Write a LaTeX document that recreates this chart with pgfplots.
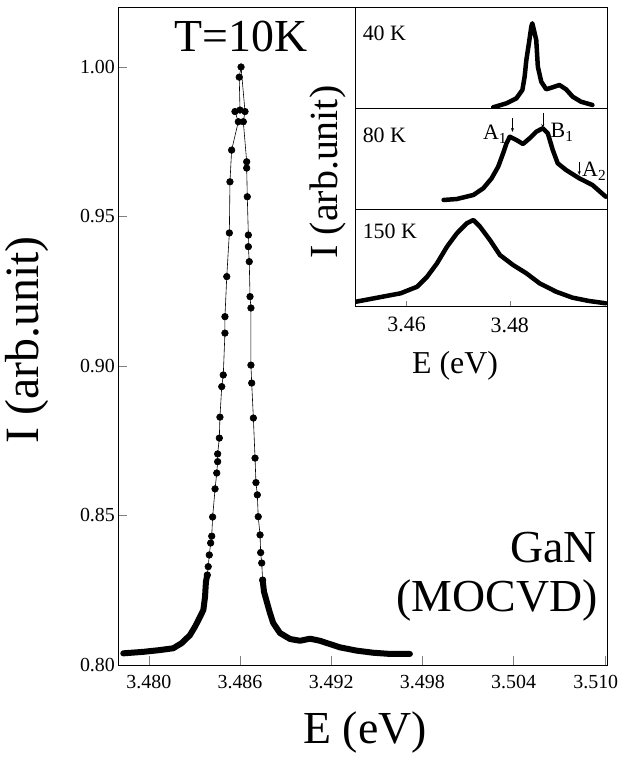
\documentclass[border=0pt]{standalone}
\usepackage{pgfplots}
\pgfplotsset{compat=1.18}
\usepackage{fontspec}
\setmainfont{Liberation Serif}
\usetikzlibrary{arrows.meta}

\pgfplotsset{
  inset/.style={scale only axis, width=252.8bp, xmin=3.450, xmax=3.499, ymin=0,
    axis background/.style={fill=white}, axis line style={line width=0.8pt},
    xtick=\empty, ytick=\empty, anchor=north west, clip=true},
  curve/.style={black, line width=4.5bp, line cap=round, line join=round},
}

\begin{document}
\begin{tikzpicture}
\path[use as bounding box] (0bp,0bp) rectangle (624bp,760bp);
\begin{axis}[
  at={(118.4bp,95bp)}, anchor=south west,
  scale only axis, width=489.4bp, height=657.8bp,
  xmin=3.478, xmax=3.5102, ymin=0.80, ymax=1.02,
  xtick={3.480,3.486,3.492,3.498,3.504},
  extra x ticks={3.510},
  extra x tick style={xticklabel style={xshift=-9bp}},
  ytick={0.80,0.85,0.90,0.95,1.00},
  scaled x ticks=false, scaled y ticks=false,
  tick pos=left, tick align=inside, major tick length=9bp,
  axis line style={line width=0.9pt},
  /pgf/number format/assume math mode=true,
  xticklabel style={/pgf/number format/fixed, /pgf/number format/fixed zerofill, /pgf/number format/precision=3, font=\fontsize{20}{24}\selectfont, yshift=-7pt},
  yticklabel style={/pgf/number format/fixed, /pgf/number format/fixed zerofill, /pgf/number format/precision=2, font=\fontsize{20}{24}\selectfont},
]
% dense parts of the spectrum (overlapping dots)
\addplot[black, line width=6bp, line cap=round, line join=round] table {
3.47832 0.8039
3.47964 0.8044
3.48074 0.8050
3.48161 0.8056
3.48216 0.8073
3.48271 0.8100
3.48304 0.8128
3.48337 0.8161
3.48359 0.8184
3.48370 0.8228
3.48376 0.8279
3.48385 0.8301
};
\addplot[black, line width=6bp, line cap=round, line join=round] table {
3.48749 0.8284
3.48758 0.8245
3.48776 0.8212
3.48797 0.8174
3.48819 0.8140
3.48863 0.8107
3.48929 0.8087
3.48995 0.8081
3.49061 0.8088
3.49126 0.8081
3.49192 0.8070
3.49258 0.8059
3.49368 0.8048
3.49477 0.8041
3.49587 0.8037
3.49718 0.8037
};
% all points
\addplot[black, line width=0.6pt, mark=*, mark size=3.3bp, mark options={solid}] table {
3.48385 0.8301
3.48391 0.8329
3.48398 0.8368
3.48407 0.8408
3.48414 0.8431
3.48420 0.8495
3.48436 0.8589
3.48447 0.8642
3.48453 0.8680
3.48453 0.8706
3.48464 0.8759
3.48468 0.8829
3.48480 0.8931
3.48490 0.8970
3.48501 0.9110
3.48501 0.9165
3.48513 0.9299
3.48530 0.9445
3.48534 0.9616
3.48545 0.9722
3.48589 0.9817
3.48567 0.9851
3.48600 0.9856
3.48595 0.9966
3.48607 1.0000
3.48633 0.9851
3.48622 0.9817
3.48644 0.9683
3.48644 0.9662
3.48648 0.9566
3.48655 0.9438
3.48655 0.9399
3.48661 0.9349
3.48666 0.9232
3.48672 0.9194
3.48672 0.9003
3.48677 0.8943
3.48688 0.8826
3.48699 0.8692
3.48705 0.8610
3.48714 0.8569
3.48720 0.8496
3.48732 0.8435
3.48736 0.8376
3.48743 0.8341
3.48749 0.8284
};
\end{axis}

% main labels
\node[rotate=90, font=\fontsize{48}{56}\selectfont] at (27bp,420bp) {I (arb.unit)};
\node[anchor=base, font=\fontsize{46}{54}\selectfont] at (365bp,17bp) {E (eV)};
\node[anchor=base, font=\fontsize{46}{54}\selectfont] at (241bp,708bp) {T=10K};
\node[anchor=base east, font=\fontsize{46}{54}\selectfont, inner sep=0pt] at (597bp,197bp) {GaN};
\node[anchor=base east, font=\fontsize{46}{54}\selectfont, inner sep=0pt] at (598bp,148bp) {(MOCVD)};

% inset: 40 K
\begin{axis}[inset, at={(355bp,753bp)}, height=101bp, ymax=101]
\addplot[curve] table {
3.47679 0.7
3.47937 4.7
3.48129 9.7
3.48244 18
3.48288 31.3
3.48321 48
3.48371 64.7
3.48417 81.3
3.48437 84.7
3.48513 68
3.48544 41.3
3.48610 26.3
3.48706 18.7
3.48833 20.7
3.48962 23
3.49090 18.7
3.49219 11.3
3.49379 6.3
3.49602 3
};
\node[anchor=base west, font=\fontsize{22}{26}\selectfont, inner sep=0pt] at (rel axis cs:0.03,0.67) {40 K};
\end{axis}

% inset: 80 K
\begin{axis}[inset, at={(355bp,652bp)}, height=101bp, ymax=101]
\addplot[curve] table {
3.46717 9
3.46975 10
3.47294 14
3.47487 20.7
3.47648 30.7
3.47775 42.3
3.47871 55.7
3.47937 65.7
3.48000 72.3
3.48129 69
3.48256 65
3.48385 70.7
3.48513 77.3
3.48640 80.7
3.48737 75.7
3.48833 59
3.48929 45.7
3.49090 39
3.49346 30.7
3.49602 24
3.49860 12.3
};
\node[anchor=base west, font=\fontsize{22}{26}\selectfont, inner sep=0pt] at (rel axis cs:0.03,0.66) {80 K};
\draw[line width=0.6pt, -{Stealth[length=4bp,width=3bp]}] (axis cs:3.48052,91) -- (axis cs:3.48052,77);
\draw[line width=0.6pt, -{Stealth[length=4bp,width=3bp]}] (axis cs:3.48640,96) -- (axis cs:3.48640,81);
\draw[line width=0.6pt, -{Stealth[length=4bp,width=3bp]}] (axis cs:3.49346,47) -- (axis cs:3.49346,34);
\node[anchor=base east, font=\fontsize{22}{26}\selectfont, inner sep=0pt] at (axis cs:3.47950,69) {A\textsubscript{1}};
\node[anchor=base west, font=\fontsize{22}{26}\selectfont, inner sep=0pt] at (axis cs:3.48790,71) {B\textsubscript{1}};
\node[anchor=base west, font=\fontsize{22}{26}\selectfont, inner sep=0pt] at (axis cs:3.49400,32) {A\textsubscript{2}};
\end{axis}

% inset: 150 K
\begin{axis}[inset, at={(355bp,551bp)}, height=97bp, ymax=97,
  xtick={3.46,3.48}, xticklabels={3.46,3.48},
  xtick pos=left, tick align=inside, major tick length=5bp,
  xticklabel style={font=\fontsize{22}{26}\selectfont, yshift=-8pt}]
\addplot[curve] table {
3.4502 4.3
3.45371 7.7
3.45885 12.7
3.46206 19.3
3.46398 29.3
3.46590 42.7
3.46783 59.3
3.46975 72.7
3.47167 82.7
3.47294 86
3.47423 79.3
3.47615 66
3.47808 51
3.48063 41
3.48321 32.7
3.48577 22.7
3.48898 14.3
3.49217 8.3
3.49538 5
3.49860 2.7
};
\node[anchor=base west, font=\fontsize{22}{26}\selectfont, inner sep=0pt] at (rel axis cs:0.03,0.70) {150 K};
\end{axis}

\node[rotate=90, font=\fontsize{40}{46}\selectfont] at (328bp,588bp) {I (arb.unit)};
\node[anchor=base, font=\fontsize{32}{38}\selectfont] at (455bp,386bp) {E (eV)};
\end{tikzpicture}
\end{document}
